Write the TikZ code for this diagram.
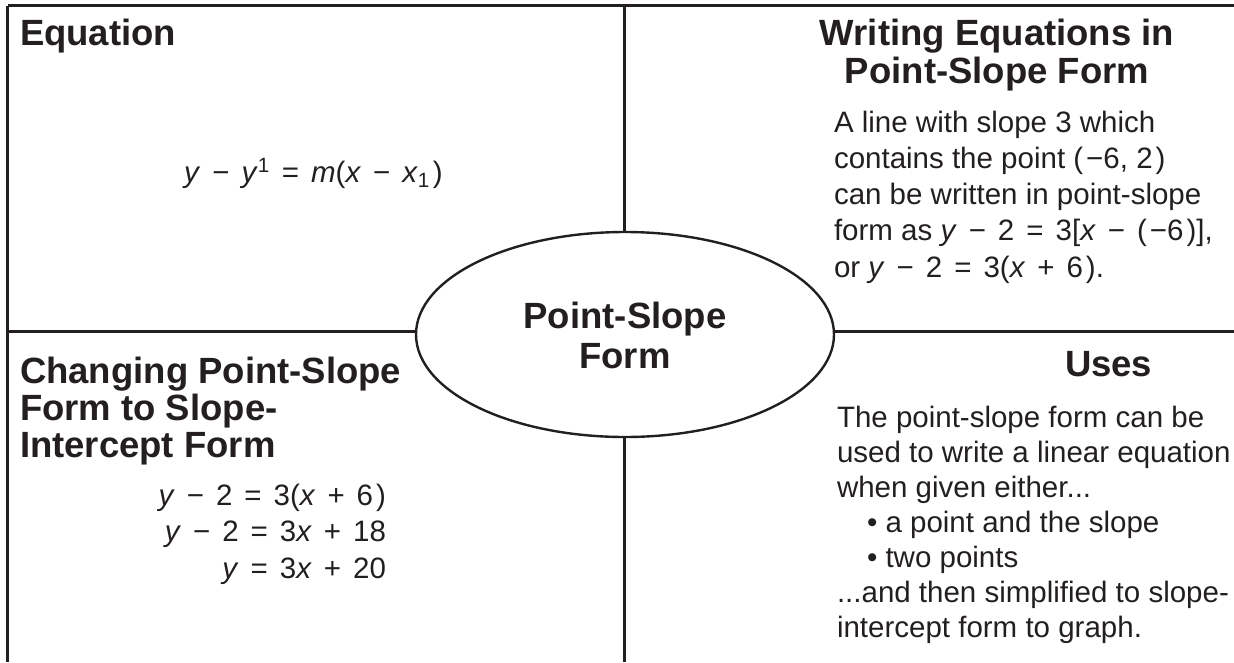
\documentclass[tikz,border=0pt]{standalone}
\usepackage{fontspec}
\setmainfont{Liberation Sans}
\usetikzlibrary{shapes.geometric}
\definecolor{ink}{HTML}{231F20}
\newcommand\opgap{\hspace{12pt}}
\newcommand\pgap{\hspace{3pt}}
\newcommand\mminus{\opgap−\opgap}
\newcommand\mplus{\opgap+\opgap}
\newcommand\meq{\opgap=\opgap}
\begin{document}
\begin{tikzpicture}[x=1pt,y=-1pt,
  rule/.style={draw=ink,line width=2.4pt},
  head/.style={text=ink,font=\fontsize{36.5}{38}\selectfont\bfseries,inner sep=0pt,outer sep=0pt},
  body/.style={text=ink,font=\fontsize{29.5}{36.25}\selectfont,inner sep=0pt,outer sep=0pt},
  hubshape/.style={ellipse,draw=ink,line width=2.4pt,minimum width=418pt,minimum height=205pt,inner sep=0pt}]
\useasboundingbox (0,0) rectangle (1234,662);
% frame
\coordinate (tl) at (7.5,5.5);
\coordinate (tr) at (1234,5.5);
\coordinate (bl) at (7.5,662);
\coordinate (tc) at (624.5,5.5);
\coordinate (bc) at (624.5,662);
\coordinate (ml) at (7.5,331.5);
\coordinate (mr) at (1234,331.5);
\node[hubshape] (hub) at (625,334.5) {};
\draw[rule,line width=3pt] (tr) -- (tl);
\draw[rule] (tl) -- (bl);
\draw[rule] (tc) -- (tc |- hub.north);
\draw[rule] (tc |- hub.south) -- (bc);
\draw[rule] (ml) -- (ml -| hub.west);
\draw[rule] (mr -| hub.east) -- (mr);
% hub text (base anchor = baseline of last line)
\node[head,font=\fontsize{36.5}{40}\selectfont\bfseries,anchor=base,align=center] (hubtext) at (625,368) {Point-Slope\\Form};
% top left
\node[head,anchor=base west] (eqhead) at (20,45) {Equation};
\node[body,anchor=base] (eq) at (313.5,182) {\textit{y}\mminus\textit{y}\textsuperscript{1}\meq\textit{m}(\textit{x}\mminus\textit{x}\textsubscript{1}\pgap)};
% top right
\node[head,anchor=base,align=center] (writehead) at (997,83) {Writing Equations in\\Point-Slope Form};
\node[body,anchor=base west,align=left] (writebody) at (834,277) {A line with slope 3 which\\contains the point (\pgap−6, 2\pgap)\\can be written in point-slope\\form as \textit{y}\mminus2\meq3[\textit{x}\mminus(\pgap−6\pgap)],\\or \textit{y}\mminus2\meq3(\textit{x}\mplus6\pgap).};
% bottom left
\node[head,font=\fontsize{36.5}{37}\selectfont\bfseries,anchor=base west,align=left] (changehead) at (20,457) {Changing Point-Slope\\Form to Slope-\\Intercept Form};
\node[body,font=\fontsize{29.5}{36.5}\selectfont,anchor=base east,align=right] (changebody) at (386,578) {\textit{y}\mminus2\meq3(\textit{x}\mplus6\pgap)\\\textit{y}\mminus2\meq3\textit{x}\mplus18\\\textit{y}\meq3\textit{x}\mplus20};
% bottom right
\node[head,anchor=base west] (useshead) at (1065,376) {Uses};
\node[body,font=\fontsize{29.5}{35}\selectfont,anchor=base west,align=left] (usesbody) at (837,637) {The point-slope form can be\\used to write a linear equation\\when given either...\\\hspace*{30pt}• a point and the slope\\\hspace*{30pt}• two points\\...and then simplified to slope-\\intercept form to graph.};
\end{tikzpicture}
\end{document}
